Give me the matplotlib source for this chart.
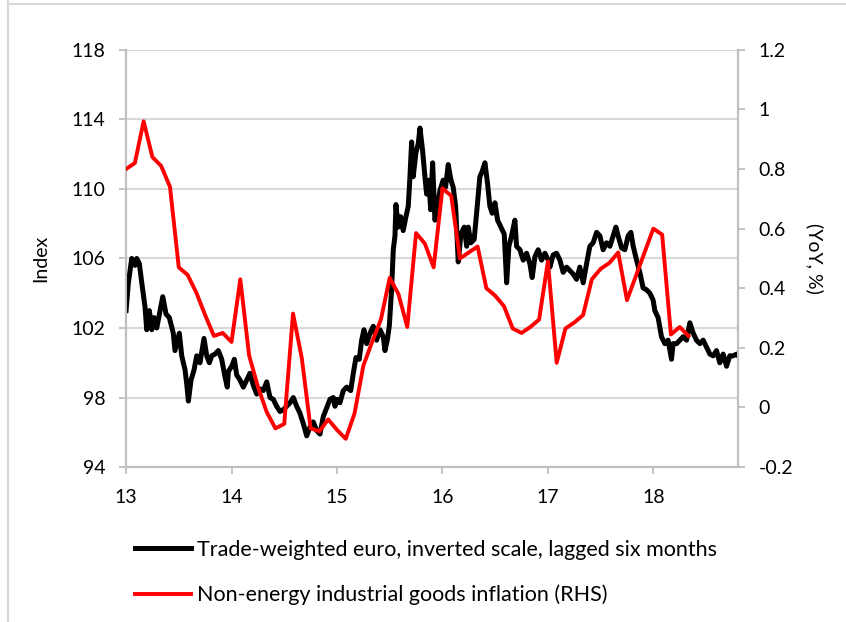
import matplotlib.pyplot as plt
import matplotlib.lines as mlines
import numpy as np

plt.rcParams["font.family"] = ["Lato", "DejaVu Sans"]

GRID = "#d9d9d9"
SPINE = "#bfbfbf"

# trade-weighted euro (inverted, lagged)
euro_years = [
    13.000, 13.022, 13.054, 13.085, 13.101, 13.126, 13.149, 13.180, 13.196, 13.221,
    13.244, 13.265, 13.291, 13.316, 13.348, 13.379, 13.410, 13.448, 13.464, 13.505,
    13.528, 13.559, 13.575, 13.591, 13.616, 13.645, 13.670, 13.701, 13.739, 13.765,
    13.790, 13.812, 13.844, 13.875, 13.907, 13.938, 13.960, 13.970, 14.002, 14.027,
    14.049, 14.081, 14.112, 14.144, 14.175, 14.207, 14.239, 14.270, 14.301, 14.334,
    14.365, 14.396, 14.428, 14.460, 14.491, 14.523, 14.555, 14.586, 14.618, 14.649,
    14.681, 14.713, 14.744, 14.775, 14.808, 14.839, 14.870, 14.902, 14.934, 14.965,
    14.981, 15.003, 15.028, 15.060, 15.092, 15.130, 15.155, 15.180, 15.211, 15.234,
    15.256, 15.281, 15.313, 15.344, 15.376, 15.408, 15.439, 15.455, 15.477, 15.496,
    15.518, 15.534, 15.550, 15.559, 15.581, 15.604, 15.628, 15.654, 15.676, 15.692,
    15.708, 15.723, 15.749, 15.771, 15.787, 15.812, 15.834, 15.850, 15.872, 15.888,
    15.907, 15.929, 15.945, 15.976, 16.007, 16.030, 16.055, 16.081, 16.102, 16.125,
    16.150, 16.175, 16.207, 16.230, 16.245, 16.270, 16.301, 16.324, 16.355, 16.377,
    16.403, 16.428, 16.450, 16.472, 16.498, 16.523, 16.555, 16.586, 16.609, 16.630,
    16.656, 16.687, 16.703, 16.735, 16.766, 16.798, 16.829, 16.851, 16.877, 16.908,
    16.940, 16.972, 17.003, 17.019, 17.050, 17.082, 17.114, 17.145, 17.177, 17.209,
    17.240, 17.272, 17.303, 17.335, 17.367, 17.398, 17.429, 17.462, 17.493, 17.524,
    17.556, 17.588, 17.619, 17.645, 17.666, 17.699, 17.730, 17.761, 17.787, 17.809,
    17.841, 17.872, 17.903, 17.935, 17.967, 17.998, 18.014, 18.045, 18.077, 18.109,
    18.140, 18.172, 18.187, 18.220, 18.251, 18.283, 18.315, 18.346, 18.378, 18.409,
    18.441, 18.472, 18.504, 18.536, 18.567, 18.599, 18.630, 18.662, 18.694, 18.725,
    18.756, 18.791, 18.805,
]
euro_index = [
    103.0, 104.6, 106.0, 105.6, 106.0, 105.7, 104.6, 103.2, 101.9, 103.0,
    101.9, 102.6, 102.0, 102.8, 103.8, 102.8, 102.6, 101.7, 100.7, 101.7,
    100.4, 99.6, 98.8, 97.8, 99.0, 99.6, 100.4, 100.0, 101.4, 100.4,
    100.0, 100.4, 100.5, 100.7, 100.2, 99.2, 98.6, 99.5, 99.8, 100.2,
    99.3, 99.0, 98.6, 99.0, 99.4, 98.7, 98.2, 98.5, 98.4, 98.9,
    98.0, 97.9, 97.5, 97.2, 97.3, 97.5, 97.7, 98.0, 97.5, 97.1,
    96.5, 95.8, 96.3, 96.6, 96.1, 95.9, 96.9, 97.4, 97.9, 98.0,
    97.5, 97.9, 97.7, 98.4, 98.6, 98.4, 99.4, 100.3, 100.2, 101.3,
    101.9, 101.1, 101.7, 102.1, 101.3, 101.9, 101.5, 100.7, 101.3, 102.1,
    104.2, 106.5, 107.3, 109.1, 107.8, 108.4, 107.6, 108.4, 109.0, 110.7,
    112.7, 110.7, 112.1, 112.6, 113.5, 112.2, 110.7, 109.7, 110.5, 108.8,
    111.5, 108.2, 108.6, 109.9, 110.5, 110.1, 111.4, 110.5, 110.1, 109.0,
    105.8, 107.4, 107.8, 106.7, 107.8, 106.9, 107.1, 108.6, 110.7, 111.0,
    111.5, 110.3, 109.0, 108.6, 109.2, 108.2, 107.8, 107.4, 104.6, 106.7,
    107.3, 108.2, 106.7, 106.5, 105.9, 106.3, 105.7, 104.9, 106.1, 106.5,
    105.9, 106.3, 105.9, 105.5, 106.2, 106.3, 105.9, 105.2, 105.5, 105.3,
    105.1, 104.8, 105.5, 104.6, 105.7, 106.7, 106.9, 107.5, 107.3, 106.5,
    106.9, 106.7, 107.3, 107.8, 107.3, 106.6, 106.5, 107.3, 107.5, 106.7,
    105.9, 105.2, 104.3, 104.2, 104.0, 103.6, 103.0, 102.6, 101.5, 101.1,
    101.3, 100.2, 101.1, 101.1, 101.3, 101.5, 101.3, 102.3, 101.7, 101.3,
    101.1, 101.3, 100.9, 100.5, 100.4, 100.7, 100.0, 100.5, 99.8, 100.4,
    100.4, 100.5, 100.4,
]

# non-energy industrial goods inflation, monthly from Jan 2013
neig_yoy = [
    0.80, 0.82, 0.96, 0.84, 0.81, 0.74, 0.47, 0.445, 0.385, 0.31, 0.24, 0.25,
    0.22, 0.43, 0.175, 0.07, -0.015, -0.07, -0.055, 0.315, 0.165, -0.07, -0.08, -0.04,
    -0.075, -0.105, -0.02, 0.14, 0.22, 0.295, 0.435, 0.38, 0.27, 0.585, 0.55, 0.47,
    0.735, 0.71, 0.50, 0.52, 0.54, 0.40, 0.375, 0.34, 0.265, 0.25, 0.27, 0.295,
    0.49, 0.15, 0.265, 0.285, 0.31, 0.43, 0.465, 0.485, 0.52, 0.36, 0.44, 0.52,
    0.60, 0.58, 0.245, 0.27, 0.24,
]
neig_years = 13 + np.arange(len(neig_yoy)) / 12

left_ticks = [94, 98, 102, 106, 110, 114, 118]
right_ticks = [-0.2, 0, 0.2, 0.4, 0.6, 0.8, 1, 1.2]
right_labels = ["-0.2", "0", "0.2", "0.4", "0.6", "0.8", "1", "1.2"]
x_ticks = [13, 14, 15, 16, 17, 18]

fig = plt.figure(figsize=(8.46, 6.22), dpi=100)
ax = fig.add_axes([0.149, 0.249, 0.723, 0.671])
ax2 = ax.twinx()

ax.plot(euro_years, euro_index, color="black", lw=3.6, solid_joinstyle="round",
        label="Trade-weighted euro, inverted scale, lagged six months", zorder=3)
ax2.plot(neig_years, neig_yoy, color="#ff0000", lw=2.8,
         label="Non-energy industrial goods inflation (RHS)", zorder=3)

ax.set_xlim(13, 18.8)
ax.set_ylim(94, 118)
ax2.set_ylim(-0.2, 1.2)
ax.set_xticks(x_ticks)
ax.set_xticklabels([str(t) for t in x_ticks])
ax.set_yticks(left_ticks)
ax2.set_yticks(right_ticks)
ax2.set_yticklabels(right_labels)

ax.grid(axis="y", color=GRID, lw=1.5, zorder=0)
ax.set_axisbelow(True)

for a in (ax, ax2):
    a.spines["top"].set_visible(False)
    for s in ("left", "right", "bottom"):
        a.spines[s].set_color(SPINE)
        a.spines[s].set_linewidth(1.5)
    a.tick_params(colors=SPINE, labelcolor="black", labelsize=14, length=5, width=1.3)
ax.tick_params(axis="y", pad=10)
ax.tick_params(axis="x", pad=11)
ax2.tick_params(axis="y", pad=10)

ax.set_ylabel("Index", fontsize=14, labelpad=16)
ax2.set_ylabel("(YoY, %)", fontsize=14, rotation=270, labelpad=22)

h1, l1 = ax.get_legend_handles_labels()
h2, l2 = ax2.get_legend_handles_labels()
fig.legend(h1 + h2, l1 + l2, loc="upper left", bbox_to_anchor=(0.137, 0.163),
           frameon=False, fontsize=15.5, handlelength=2.6, handletextpad=0.25,
           labelspacing=1.15)

# light frame lines along the top and left edges of the picture
fig.add_artist(mlines.Line2D([0.009, 0.009], [0, 1], color="#d9d9d9", lw=1.5))
fig.add_artist(mlines.Line2D([0.009, 1], [0.994, 0.994], color="#d9d9d9", lw=1.5))

fig.savefig("out.png", dpi=100)
